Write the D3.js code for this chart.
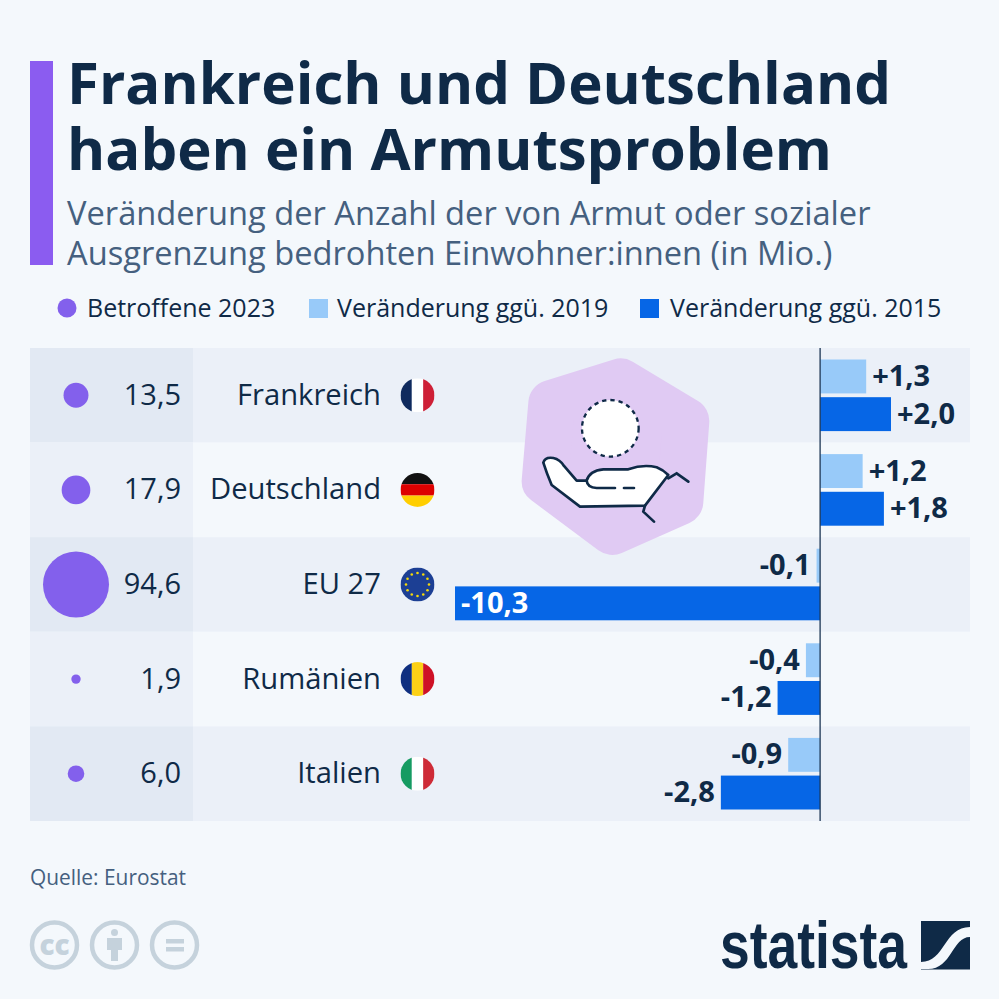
<!DOCTYPE html>
<html>
<head>
<meta charset="utf-8">
<script src="https://cdn.jsdelivr.net/npm/d3@7"></script>
<style>
  html, body { margin: 0; padding: 0; background: #f4f8fc; }
  svg { display: block; }
  text { font-family: "Open Sans", sans-serif; fill: #0f2a47; }
</style>
</head>
<body>
<div id="chart"></div>
<script>
var countries = ["Frankreich", "Deutschland", "EU 27", "Rumänien", "Italien"];
var affected = [13.5, 17.9, 94.6, 1.9, 6.0];
var change2019 = [1.3, 1.2, -0.1, -0.4, -0.9];
var change2015 = [2.0, 1.8, -10.3, -1.2, -2.8];
var seriesNames = ["Veränderung ggü. 2019", "Veränderung ggü. 2015"];

var dark = "#0f2a47", slate = "#45607f", purple = "#8360ec";
var lightBlue = "#98caf9", blue = "#0666e6";

var svg = d3.select("#chart").append("svg").attr("width", 999).attr("height", 999);
svg.append("rect").attr("width", 999).attr("height", 999).attr("fill", "#f4f8fc");

// header
svg.append("rect").attr("x", 30).attr("y", 61).attr("width", 23).attr("height", 204).attr("fill", "#8b5cf0");
[["Frankreich und Deutschland", 103.5], ["haben ein Armutsproblem", 169.5]].forEach(function(t) {
    svg.append("text").attr("x", 67).attr("y", t[1]).attr("font-size", 58.2).attr("font-weight", 700).text(t[0]);
});
[["Veränderung der Anzahl der von Armut oder sozialer", 225], ["Ausgrenzung bedrohten Einwohner:innen (in Mio.)", 265]].forEach(function(t) {
    svg.append("text").attr("x", 67).attr("y", t[1]).attr("font-size", 32.65).style("fill", slate).text(t[0]);
});

// legend
svg.append("circle").attr("cx", 67).attr("cy", 308).attr("r", 9.5).attr("fill", purple);
svg.append("text").attr("x", 87).attr("y", 317).attr("font-size", 25).text("Betroffene 2023");
[[309, 337, lightBlue], [640, 670, blue]].forEach(function(l, i) {
    svg.append("rect").attr("x", l[0]).attr("y", 299).attr("width", 19).attr("height", 19).attr("fill", l[2]);
    svg.append("text").attr("x", l[1]).attr("y", 317).attr("font-size", 25).text(seriesNames[i]);
});

// scales
var y = d3.scaleBand().domain(countries).range([348, 821]);
var x = d3.scaleLinear().domain([-10.3, 2.0]).range([455, 891]);
var r = d3.scaleSqrt().domain([0, 94.6]).range([0, 33]);
var yInner = d3.scaleBand().domain([0, 1]).range([11.5, y.bandwidth() - 11.5]).paddingInner(0.1);
var fmt = function(v) { return v.toFixed(1).replace(".", ","); };
var signed = function(v) { return (v > 0 ? "+" : "") + fmt(v); };

// table rows
countries.forEach(function(c, i) {
    var top = y(c), mid = top + y.bandwidth() / 2;
    svg.append("rect").attr("x", 30).attr("y", top).attr("width", 940).attr("height", y.bandwidth())
        .attr("fill", i % 2 == 0 ? "#ebf0f8" : "#f4f8fc");
    svg.append("rect").attr("x", 30).attr("y", top).attr("width", 163).attr("height", y.bandwidth())
        .attr("fill", i % 2 == 0 ? "#e2e9f3" : "#ebf0f8");
    svg.append("circle").attr("cx", 76).attr("cy", mid).attr("r", r(affected[i])).attr("fill", purple);
    svg.append("text").attr("x", 181).attr("y", mid + 9.5).attr("text-anchor", "end").attr("font-size", 29).text(fmt(affected[i]));
    svg.append("text").attr("x", 381).attr("y", mid + 9.5).attr("text-anchor", "end").attr("font-size", 29.2).text(c);
});

// flags
var defs = svg.append("defs");
function flag(i, stripes, vertical) {
    var cy = y(countries[i]) + y.bandwidth() / 2, cx = 417.5, rad = 17;
    var id = "flag" + i;
    defs.append("clipPath").attr("id", id).append("circle").attr("cx", cx).attr("cy", cy).attr("r", rad);
    var g = svg.append("g").attr("clip-path", "url(#" + id + ")");
    stripes.forEach(function(col, k) {
        var w = 2 * rad / stripes.length;
        g.append("rect")
            .attr("x", vertical ? cx - rad + k * w : cx - rad)
            .attr("y", vertical ? cy - rad : cy - rad + k * w)
            .attr("width", vertical ? w : 2 * rad)
            .attr("height", vertical ? 2 * rad : w)
            .attr("fill", col);
    });
}
flag(0, ["#0f2a5e", "#ffffff", "#ce1f36"], true);
flag(1, ["#111111", "#dd0000", "#ffce00"], false);
flag(2, ["#1c3f94"], true);
flag(3, ["#0f2f80", "#fcd116", "#ce1126"], true);
flag(4, ["#169b62", "#ffffff", "#ce2b37"], true);
var euY = y("EU 27") + y.bandwidth() / 2;
d3.range(12).forEach(function(k) {
    var a = k * Math.PI / 6;
    svg.append("circle").attr("cx", 417.5 + 11.5 * Math.cos(a)).attr("cy", euY + 11.5 * Math.sin(a))
        .attr("r", 1.3).attr("fill", "#f5d90a");
});

// bars
[change2019, change2015].forEach(function(series, s) {
    series.forEach(function(v, i) {
        var by = y(countries[i]) + yInner(s), h = yInner.bandwidth();
        svg.append("rect").attr("x", Math.min(x(v), x(0))).attr("y", by)
            .attr("width", Math.abs(x(v) - x(0))).attr("height", h)
            .attr("fill", s == 0 ? lightBlue : blue);
        var inside = x(v) < 520;
        svg.append("text")
            .attr("x", inside ? x(v) + 6 : (v > 0 ? x(v) + 6 : x(v) - 6))
            .attr("y", by + h / 2 + 9.5)
            .attr("text-anchor", inside || v > 0 ? "start" : "end")
            .attr("font-size", 29).attr("font-weight", 700)
            .style("fill", inside ? "#fff" : dark)
            .text(signed(v));
    });
});
svg.append("line").attr("x1", x(0)).attr("x2", x(0)).attr("y1", 348).attr("y2", 821)
    .attr("stroke", "#1d3654").attr("stroke-width", 1.3);

// illustration, drawn in the coordinates of a 3x crop
var icon = svg.append("g").attr("transform", "translate(500,340) scale(0.3333)");
icon.append("path").attr("d", "M362,125 L558,243 L540,485 L337,575 L135,424 L155,190 Z")
    .attr("fill", "#e0caf3").attr("stroke", "#e0caf3").attr("stroke-width", 140).attr("stroke-linejoin", "round");
icon.append("circle").attr("cx", 331).attr("cy", 265).attr("r", 85).attr("fill", "#fff")
    .attr("stroke", dark).attr("stroke-width", 7).attr("stroke-dasharray", "13 12");
icon.append("path")
    .attr("d", "M130,368 Q135,350 160,354 Q180,358 192,378 L230,422 L260,422 Q268,392 310,388 L385,388 Q430,372 470,382 Q490,390 505,405 L435,497 L240,500 L155,435 Q140,400 130,368 Z")
    .attr("fill", "#fff").attr("stroke", dark).attr("stroke-width", 8).attr("stroke-linejoin", "round");
icon.append("path")
    .attr("d", "M260,422 Q262,443 290,444 L345,444 M372,444 L402,444 M505,415 L530,400 L565,425 M435,497 L430,515 L462,545")
    .attr("fill", "none").attr("stroke", dark).attr("stroke-width", 8).attr("stroke-linecap", "round");

// footer
svg.append("text").attr("x", 30).attr("y", 885).attr("font-size", 20.9).style("fill", slate).text("Quelle: Eurostat");
var ccCol = "#c5d2dc";
[54.5, 114.5, 174.5].forEach(function(cx) {
    svg.append("circle").attr("cx", cx).attr("cy", 945).attr("r", 22.5).attr("fill", "none").attr("stroke", ccCol).attr("stroke-width", 4.5);
});
svg.append("text").attr("x", 54.5).attr("y", 954.5).attr("text-anchor", "middle").attr("font-size", 28).attr("font-weight", 800).style("fill", ccCol).text("cc");
svg.append("circle").attr("cx", 114.5).attr("cy", 932.5).attr("r", 3.5).attr("fill", ccCol);
svg.append("path").attr("d", "M107,938 H122 V950 H118 V961 H111 V950 H107 Z").attr("fill", ccCol);
svg.append("rect").attr("x", 166).attr("y", 939).attr("width", 18).attr("height", 4.5).attr("fill", ccCol);
svg.append("rect").attr("x", 166).attr("y", 947).attr("width", 18).attr("height", 4.5).attr("fill", ccCol);

svg.append("text").attr("x", 720).attr("y", 968).attr("font-size", 66).attr("font-weight", 700)
    .style("font-family", "'Liberation Sans Narrow', 'Liberation Sans', sans-serif")
    .attr("textLength", 187).attr("lengthAdjust", "spacingAndGlyphs").text("statista");
var logo = svg.append("g");
logo.append("rect").attr("x", 921).attr("y", 921).attr("width", 49).attr("height", 48.5).attr("fill", dark);
logo.append("path").attr("d", "M921,962 C945,962 944,927 970,927 L970,937 C952,937 952,969 928,969 L921,969 Z").attr("fill", "#f4f8fc");
</script>
</body>
</html>
